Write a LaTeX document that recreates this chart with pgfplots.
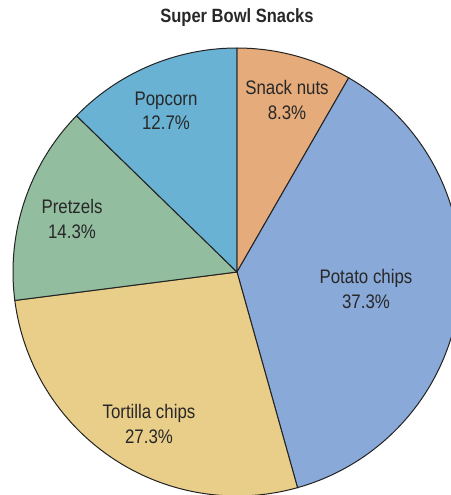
\documentclass[border=0pt]{standalone}
\usepackage{pgfplots}
\pgfplotsset{compat=1.18}
\usepackage{fontspec}
\setmainfont{Liberation Sans}[FakeStretch=0.86]
\definecolor{cNuts}{RGB}{229,171,123}
\definecolor{cChips}{RGB}{137,169,216}
\definecolor{cTort}{RGB}{232,206,137}
\definecolor{cPretz}{RGB}{146,189,159}
\definecolor{cPop}{RGB}{105,178,212}
\definecolor{cEdge}{RGB}{35,35,35}
\definecolor{cText}{RGB}{40,40,40}
\begin{document}
\begin{tikzpicture}
% values (percent), clockwise from 12 o'clock
\def\vA{8.3}  % Snack nuts
\def\vB{37.3} % Potato chips
\def\vC{27.3} % Tortilla chips
\def\vD{14.3} % Pretzels
\def\vE{12.7} % Popcorn
\pgfmathsetmacro{\tot}{\vA+\vB+\vC+\vD+\vE}
\pgfmathsetmacro{\aA}{90}
\pgfmathsetmacro{\aB}{\aA-360*\vA/\tot}
\pgfmathsetmacro{\aC}{\aB-360*\vB/\tot}
\pgfmathsetmacro{\aD}{\aC-360*\vC/\tot}
\pgfmathsetmacro{\aE}{\aD-360*\vD/\tot}
\pgfmathsetmacro{\aF}{\aE-360*\vE/\tot}
\def\cx{237}\def\cy{223}\def\R{224}
\begin{axis}[width=225.5pt,height=247.5pt,scale only axis,
  xmin=0,xmax=451,ymin=0,ymax=495,hide axis,clip=true]
\addplot[fill=cNuts,draw=cEdge,line width=0.5pt,domain=\aB:\aA,samples=40]
  ({\cx+\R*cos(x)},{\cy+\R*sin(x)}) -- (axis cs:\cx,\cy) -- cycle;
\addplot[fill=cChips,draw=cEdge,line width=0.5pt,domain=\aC:\aB,samples=120]
  ({\cx+\R*cos(x)},{\cy+\R*sin(x)}) -- (axis cs:\cx,\cy) -- cycle;
\addplot[fill=cTort,draw=cEdge,line width=0.5pt,domain=\aD:\aC,samples=100]
  ({\cx+\R*cos(x)},{\cy+\R*sin(x)}) -- (axis cs:\cx,\cy) -- cycle;
\addplot[fill=cPretz,draw=cEdge,line width=0.5pt,domain=\aE:\aD,samples=60]
  ({\cx+\R*cos(x)},{\cy+\R*sin(x)}) -- (axis cs:\cx,\cy) -- cycle;
\addplot[fill=cPop,draw=cEdge,line width=0.5pt,domain=\aF:\aE,samples=60]
  ({\cx+\R*cos(x)},{\cy+\R*sin(x)}) -- (axis cs:\cx,\cy) -- cycle;
\tikzset{lbl/.style={align=center,text=cText,font=\fontsize{9.8}{12.3}\selectfont,inner sep=0pt}}
\node[lbl] at (axis cs:287,395) {Snack nuts\\8.3\%};
\node[lbl] at (axis cs:166,384) {Popcorn\\12.7\%};
\node[lbl] at (axis cs:72,276) {Pretzels\\14.3\%};
\node[lbl] at (axis cs:366,206) {Potato chips\\37.3\%};
\node[lbl] at (axis cs:149,71) {Tortilla chips\\27.3\%};
\node[text=cText,font=\fontsize{9.6}{11}\bfseries\selectfont,inner sep=0pt] at (axis cs:237,477) {Super Bowl Snacks};
\end{axis}
\path (current axis.south west) rectangle (current axis.north east);
\end{tikzpicture}
\end{document}
